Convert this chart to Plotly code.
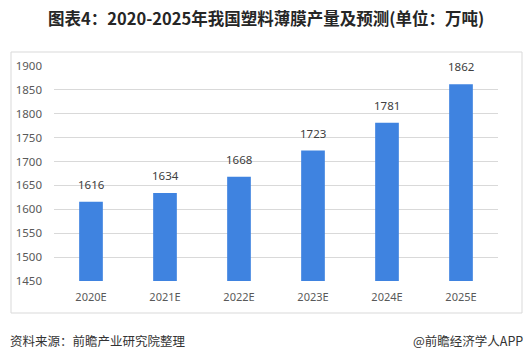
import plotly.graph_objects as go

categories = ["2020E", "2021E", "2022E", "2023E", "2024E", "2025E"]
values = [1616, 1634, 1668, 1723, 1781, 1862]
y_ticks = [1450, 1500, 1550, 1600, 1650, 1700, 1750, 1800, 1850, 1900]

W, H = 532, 359
ml, mr, mt, mb = 54, 34, 66, 78
PW, PH = W - ml - mr, H - mt - mb

def px(x):
    return (x - ml) / PW

def py(y):
    return (H - mb - y) / PH

fig = go.Figure(go.Bar(
    x=categories, y=values, width=0.32,
    marker=dict(color="#3F83E0", line=dict(width=0)),
    hoverinfo="x+y",
))

label_font = dict(family="Noto Sans, DejaVu Sans, sans-serif", size=11.5, color="#404040")
annotations = [
    dict(x=c, y=v, text=str(v), xref="x", yref="y", showarrow=False,
         yanchor="bottom", yshift=8, font=label_font)
    for c, v in zip(categories, values)
]
annotations += [
    dict(text="<b>图表4：2020-2025年我国塑料薄膜产量及预测(单位：万吨)</b>",
         xref="paper", yref="paper", x=px(W / 2), y=py(18),
         xanchor="center", yanchor="middle", showarrow=False,
         font=dict(family="Noto Sans CJK SC, sans-serif", size=16.5, color="#262626")),
    dict(text="资料来源：前瞻产业研究院整理",
         xref="paper", yref="paper", x=px(8), y=py(340),
         xanchor="left", yanchor="middle", showarrow=False,
         font=dict(family="Noto Sans CJK SC, sans-serif", size=12.5, color="#333333")),
    dict(text="@前瞻经济学人APP",
         xref="paper", yref="paper", x=px(525), y=py(340),
         xanchor="right", yanchor="middle", showarrow=False,
         font=dict(family="Noto Sans CJK SC, sans-serif", size=12.5, color="#333333")),
]

fig.update_layout(
    width=W, height=H,
    margin=dict(l=ml, r=mr, t=mt, b=mb),
    paper_bgcolor="white", plot_bgcolor="white",
    showlegend=False,
    xaxis=dict(
        showgrid=False, showline=False, ticks="", ticklabelstandoff=8,
        tickfont=dict(family="Noto Sans, DejaVu Sans, sans-serif", size=11, color="#595959"),
    ),
    yaxis=dict(
        range=[1450, 1900], tickvals=y_ticks, showgrid=True, gridcolor="#D9D9D9", gridwidth=1,
        zeroline=False, showline=False, ticks="", ticklabelstandoff=11,
        tickfont=dict(family="Noto Sans, DejaVu Sans, sans-serif", size=11.5, color="#595959"),
    ),
    shapes=[dict(type="rect", xref="paper", yref="paper",
                 x0=px(11), x1=px(522), y0=py(313), y1=py(52),
                 line=dict(color="#D9D9D9", width=1), layer="below")],
    annotations=annotations,
)

fig.write_html("out.html", config={"displayModeBar": False},
               post_script="document.body.style.margin='0';document.body.style.padding='0';")
